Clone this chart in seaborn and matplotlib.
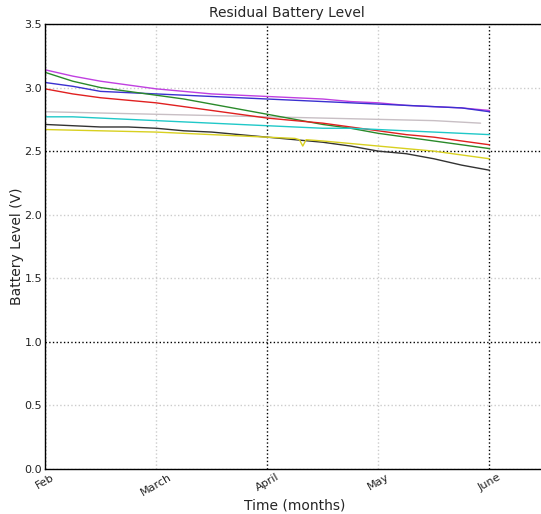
"""Residual battery level per sensor node, Feb to June."""

import matplotlib

matplotlib.use("Agg")
import matplotlib.pyplot as plt
import pandas as pd
import seaborn as sns

# month index: 0 = Feb, 4 = June
months = [0, 0.25, 0.5, 0.75, 1, 1.25, 1.5, 1.75, 2, 2.25, 2.5, 2.75, 3, 3.25, 3.5, 3.75, 4]
month_labels = ["Feb", "March", "April", "May", "June"]

magenta_level = [3.14, 3.09, 3.05, 3.02, 2.99, 2.97, 2.95, 2.94, 2.93, 2.92, 2.91, 2.89, 2.88, 2.86, 2.85, 2.84, 2.82]
blue_level = [3.04, 3.01, 2.97, 2.96, 2.95, 2.94, 2.93, 2.92, 2.91, 2.90, 2.89, 2.88, 2.87, 2.86, 2.85, 2.84, 2.81]
green_level = [3.12, 3.05, 3.00, 2.97, 2.94, 2.91, 2.87, 2.83, 2.79, 2.75, 2.71, 2.68, 2.64, 2.61, 2.58, 2.55, 2.52]
red_level = [2.99, 2.95, 2.92, 2.90, 2.88, 2.85, 2.82, 2.79, 2.76, 2.74, 2.72, 2.69, 2.66, 2.63, 2.61, 2.58, 2.55]
cyan_level = [2.77, 2.77, 2.76, 2.75, 2.74, 2.73, 2.72, 2.71, 2.70, 2.69, 2.68, 2.68, 2.67, 2.66, 2.65, 2.64, 2.63]
black_level = [2.71, 2.70, 2.69, 2.69, 2.68, 2.66, 2.65, 2.63, 2.61, 2.59, 2.57, 2.54, 2.50, 2.48, 2.44, 2.39, 2.35]

gray_months = [0, 0.5, 1, 1.5, 2, 2.5, 3, 3.5, 3.92]
gray_level = [2.81, 2.80, 2.79, 2.78, 2.77, 2.76, 2.75, 2.74, 2.72]

yellow_months = [0, 0.5, 1, 1.5, 2, 2.25, 2.29, 2.32, 2.35, 2.5, 2.75, 3, 3.25, 3.5, 3.75, 4]
yellow_level = [2.67, 2.66, 2.65, 2.63, 2.61, 2.60, 2.59, 2.54, 2.59, 2.58, 2.56, 2.54, 2.52, 2.50, 2.47, 2.44]

series = {
    "gray": (gray_months, gray_level),
    "magenta": (months, magenta_level),
    "blue": (months, blue_level),
    "green": (months, green_level),
    "red": (months, red_level),
    "cyan": (months, cyan_level),
    "black": (months, black_level),
    "yellow": (yellow_months, yellow_level),
}
palette = {
    "gray": "#c8bfc4",
    "magenta": "#c040e0",
    "blue": "#3a30d0",
    "green": "#2a8a2a",
    "red": "#e02020",
    "cyan": "#20c8c8",
    "black": "#333333",
    "yellow": "#d8d020",
}

frames = []
for name, (xs, ys) in series.items():
    frames.append(pd.DataFrame({"month": xs, "level": ys, "node": name}))
df = pd.concat(frames, ignore_index=True)

sns.set_style("white")
plt.rcParams["font.family"] = ["DejaVu Sans"]

fig = plt.figure(figsize=(5.41, 5.14), dpi=100)
ax = fig.add_axes([45 / 541, 45 / 514, 500 / 541, 445 / 514])

sns.lineplot(
    data=df,
    x="month",
    y="level",
    hue="node",
    palette=palette,
    linewidth=1.0,
    legend=False,
    ax=ax,
)

ax.set_xlim(0, 4.5)
ax.set_ylim(0, 3.5)
ax.set_xticks(range(len(month_labels)))
ax.set_xticklabels(month_labels, rotation=30, ha="center", fontsize=8)
ax.set_yticks([0.0, 0.5, 1.0, 1.5, 2.0, 2.5, 3.0, 3.5])
ax.set_yticklabels(["0.0", "0.5", "1.0", "1.5", "2.0", "2.5", "3.0", "3.5"], fontsize=8)
ax.tick_params(direction="in", length=4, width=0.8, pad=2, colors="#222222")

ax.grid(True, linestyle=":", linewidth=1.0, color="black")
ax.set_axisbelow(True)
# some grid lines came out much fainter in the original render
for i, line in enumerate(ax.get_xgridlines()):
    if i in (1, 3):
        line.set_color("#cccccc")
for i, line in enumerate(ax.get_ygridlines()):
    if i not in (2, 5):
        line.set_color("#cccccc")

for spine in ax.spines.values():
    spine.set_color("black")
    spine.set_linewidth(1.0)

ax.set_title("Residual Battery Level", fontsize=10, pad=5, x=0.483)
ax.set_xlabel("Time (months)", fontsize=10, labelpad=1)
ax.set_ylabel("Battery Level (V)", fontsize=10, labelpad=0)

fig.savefig("out.png", dpi=100)
plt.close(fig)
